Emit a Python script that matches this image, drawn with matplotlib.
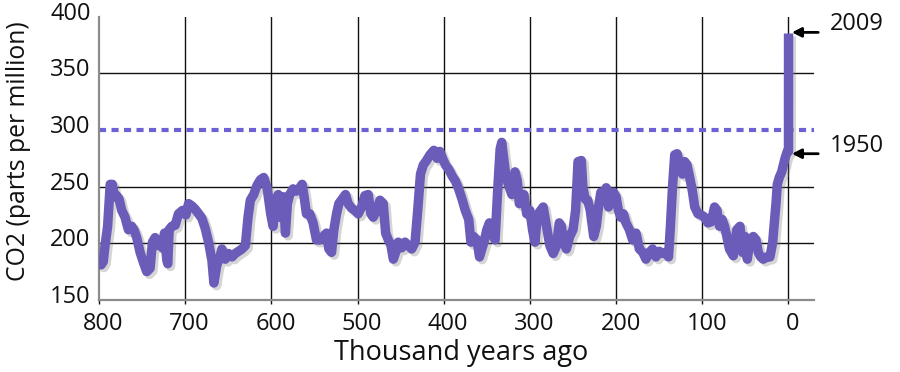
import matplotlib
matplotlib.use("Agg")
import matplotlib.pyplot as plt
import matplotlib.patheffects as pe
from matplotlib.transforms import ScaledTranslation

plt.rcParams['font.family'] = ['Open Sans', 'DejaVu Sans']

# Thousand years ago (negative = after 1950)
ages = [800, 797.5, 795, 793, 790, 787, 784.5, 782, 779.5, 776.7, 773.6, 769.8, 765.9, 762,
        758.9, 756.2, 752.3, 748.4, 744.6, 740.7, 738, 734.9, 731.8, 729, 726.4, 724, 721.3,
        720.2, 718.6, 715.5, 711.6, 707.8, 703.1, 699.2, 696.1, 692.2, 688.4, 684.5, 680.6,
        676.7, 672.9, 669, 666.7, 663.2, 659.3, 657.4, 653.5, 649.6, 645.7, 641.9, 638, 634.1,
        630.2, 627.1, 624.4, 620.5, 616.7, 612.8, 608.9, 605, 603.9, 600.8, 598, 595.3, 592,
        590, 588, 586, 583.7, 581.4, 578.7, 574.8, 570.9, 567, 564.3, 562, 559.3, 555.4, 551.6,
        547.7, 543.8, 539.9, 536, 533.3, 530.2, 527.5, 524.4, 521.7, 517.8, 514, 510.9, 507,
        503.1, 499.2, 495.3, 491.5, 487.6, 484.5, 481.8, 477.9, 474, 470.2, 467.4, 464.3,
        461.2, 458.5, 455.8, 452.7, 448.8, 444.9, 441.1, 437.2, 433.3, 430.2, 427, 423.8, 420,
        416, 411.5, 407.7, 404.6, 402, 398, 394, 390, 386.5, 382.7, 378.8, 375, 371, 368.5,
        365.4, 361.5, 358.5, 355.8, 353, 350, 347, 344, 340.4, 337.7, 334.6, 332.7, 330, 327.7,
        325, 321, 317.3, 314.6, 312.3, 309.6, 307, 303.8, 300, 297, 294.2, 291.5, 288.5, 284.6,
        280.8, 276.9, 273, 269, 266, 263.5, 260.8, 257.7, 253.8, 250, 247, 244.2, 240.4, 238.5,
        235.8, 233, 230, 226, 223, 220.4, 217.7, 214.6, 211.5, 208.8, 206, 203, 200, 197.3,
        194.6, 191.5, 188.5, 184.6, 180.8, 176.9, 173, 169, 165.4, 161.5, 157.7, 153.8, 150,
        146, 142.3, 139.2, 137, 134.6, 132, 129.2, 126, 123, 120.4, 117.7, 114.6, 111.5, 108.8,
        105, 101, 97.3, 93.5, 89.6, 85.8, 83, 80, 77, 74.2, 71.5, 68.5, 64, 60, 56.3, 53.2,
        50.5, 47.8, 44.7, 40.8, 37.7, 35, 32.3, 29.2, 25.3, 21.5, 18.3, 16.8, 14.5, 13, 10.7,
        7.9, 6, 4, 1.4, 0.0, -0.059]
co2 = [186, 181, 184, 198, 215, 252, 252, 241, 242, 239, 229, 223, 212, 215,
       211, 205, 192, 183, 175, 178, 201, 205, 198, 202, 196, 209, 185,
       182, 212, 215, 216, 226, 229, 225, 235, 233, 230, 226, 222,
       213, 201, 185, 165, 181, 189, 195, 186, 191, 188, 191, 193, 195,
       198, 223, 238, 243, 251, 256, 258, 249, 243, 226, 215, 238, 243,
       223, 235, 241, 209, 235, 243, 248, 246, 249, 252, 241, 226, 226, 218,
       203, 203, 206, 209, 195, 192, 212, 226, 235, 239, 243, 235, 231,
       229, 226, 232, 242, 243, 226, 223, 229, 238, 235, 209, 203,
       198, 186, 192, 201, 196, 201, 198, 195, 201, 229, 261, 269, 273,
       278, 282, 275, 281, 276, 269, 265, 259, 255, 248, 239, 229, 221, 201,
       206, 203, 188, 195, 202, 212, 218, 209, 203, 243, 283, 289, 272, 258,
       252, 243, 263, 255, 235, 238, 243, 226, 229, 212, 201, 223, 228, 232,
       215, 198, 191, 198, 218, 215, 201, 195, 206, 212, 229, 272, 273, 249,
       239, 238, 229, 206, 215, 232, 245, 243, 249, 232, 241, 245, 241, 229,
       223, 226, 218, 212, 203, 209, 195, 192, 186, 192, 195, 188, 193,
       191, 192, 188, 215, 249, 278, 279, 269, 261, 272, 269, 258, 246, 232,
       226, 225, 223, 218, 219, 232, 229, 215, 221, 215, 206, 195, 189, 212, 215, 192,
       206, 186, 203, 206, 203, 192, 188, 186, 188, 188, 201, 215, 235, 252, 258,
       263, 269, 275, 281, 281, 385]

x_ticks = [800, 700, 600, 500, 400, 300, 200, 100, 0]
y_ticks = [150, 200, 250, 300, 350, 400]
h_grid = [200, 250, 350]
preindustrial_max = 300
notes = [("2009", 386, 393), ("1950", 279, 286)]

line_color = '#6a5cb8'
dash_color = '#6c62d6'

fig = plt.figure(figsize=(9, 3.72), dpi=100)
ax = fig.add_axes([99/900, 72/372, 715/900, 283.5/372])
ax.set_xlim(800, -29.6)
ax.set_ylim(150, 400)

for v in h_grid:
    ax.axhline(v, color='#111111', lw=1.0, zorder=1)
for v in x_ticks[1:]:
    ax.axvline(v, color='#111111', lw=1.0, zorder=1)

ax.axhline(preindustrial_max, color=dash_color, lw=3.0, ls=(0, (1.7, 1.3)), zorder=2)

ax.plot(ages, co2, color=line_color, lw=6.8, solid_joinstyle='round', solid_capstyle='butt',
        zorder=3,
        path_effects=[pe.SimpleLineShadow(offset=(2.0, -2.0), shadow_color='#777777', alpha=0.3),
                      pe.Normal()])

ax.set_xticks(x_ticks)
ax.set_xticklabels([str(t) for t in x_ticks])
ax.set_yticks(y_ticks)
ax.set_yticklabels([str(t) for t in y_ticks])
ax.tick_params(axis='x', direction='out', length=3, width=1, color='#111111',
               labelsize=17, pad=6, labelcolor='#111111')
ax.tick_params(axis='y', length=0, labelsize=17, pad=6, labelcolor='#111111')
for lab in ax.get_xticklabels():
    lab.set_transform(lab.get_transform() + ScaledTranslation(4.5/100, 0, fig.dpi_scale_trans))
for lab in ax.get_yticklabels():
    lab.set_transform(lab.get_transform() + ScaledTranslation(0, 6/100, fig.dpi_scale_trans))

for s in ['top', 'right']:
    ax.spines[s].set_visible(False)
for s in ['left', 'bottom']:
    ax.spines[s].set_color('#8c8c8c')
    ax.spines[s].set_linewidth(1.6)

for label, yarrow, ytext in notes:
    ax.annotate('', xy=(-4.0, yarrow), xytext=(-34.5, yarrow),
                arrowprops=dict(arrowstyle='-|>,head_length=0.55,head_width=0.28',
                                lw=2.0, color='black', shrinkA=0, shrinkB=0),
                annotation_clip=False)
    ax.text(-48, ytext, label, ha='left', va='center', fontsize=17, color='#111111',
            clip_on=False)

fig.text(19/900, 1 - 151/372, 'CO2 (parts per million)', rotation=90, ha='center',
         va='center', fontsize=17.8, color='#111111')
fig.text(461/900, 12/372, 'Thousand years ago', ha='center', va='baseline',
         fontsize=19.5, color='#111111')

fig.savefig('out.png', dpi=100, facecolor='white')
